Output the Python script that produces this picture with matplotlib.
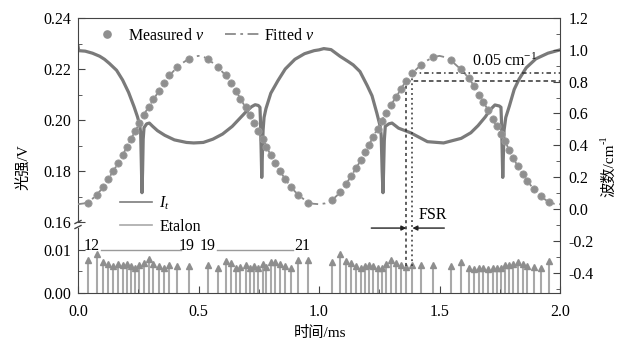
import numpy as np
import matplotlib
matplotlib.use('Agg')
import matplotlib.pyplot as plt
from matplotlib.lines import Line2D
from matplotlib.ticker import FixedLocator, FormatStrFormatter

plt.rcParams['font.family'] = ['Liberation Serif', 'Noto Sans CJK SC']
plt.rcParams['mathtext.fontset'] = 'custom'
plt.rcParams['mathtext.rm'] = 'Liberation Serif'
plt.rcParams['mathtext.it'] = 'Liberation Serif:italic'
plt.rcParams['axes.unicode_minus'] = False
plt.rcParams['font.size'] = 11

# ---------------- data ----------------
# transmitted intensity I_t (V) vs time (ms)
intensity_t = [0.000, 0.003, 0.030, 0.060, 0.090, 0.110, 0.130, 0.160, 0.185, 0.210,
               0.233, 0.247, 0.256, 0.260, 0.263, 0.2655, 0.268, 0.2705, 0.274, 0.285,
               0.296, 0.310, 0.330, 0.360, 0.400, 0.450, 0.480, 0.520, 0.560, 0.600,
               0.640, 0.670, 0.700, 0.720, 0.735, 0.748, 0.755, 0.757, 0.760, 0.7625,
               0.765, 0.768, 0.772, 0.780, 0.800, 0.830, 0.860, 0.900, 0.940, 0.980,
               1.000,
               1.020, 1.050, 1.087, 1.120, 1.142, 1.170, 1.200, 1.220, 1.240, 1.254,
               1.258, 1.262, 1.2655, 1.268, 1.271, 1.275, 1.290, 1.303, 1.330, 1.380,
               1.450, 1.517, 1.590, 1.630, 1.660, 1.690, 1.710, 1.730, 1.748, 1.755,
               1.757, 1.760, 1.7625, 1.765, 1.768, 1.775, 1.790, 1.810, 1.830, 1.860,
               1.900, 1.950, 2.000]
intensity_v = [0.2290, 0.2272, 0.2270, 0.2262, 0.2250, 0.2238, 0.2222, 0.2195, 0.2157, 0.2108,
               0.2051, 0.2012, 0.1980, 0.1950, 0.1820, 0.1715, 0.1800, 0.1925, 0.1970, 0.1985,
               0.1988, 0.1975, 0.1958, 0.1940, 0.1922, 0.1912, 0.1910, 0.1912, 0.1925, 0.1945,
               0.1975, 0.2005, 0.2035, 0.2052, 0.2060, 0.2057, 0.2050, 0.2000, 0.1880, 0.1775,
               0.1860, 0.1960, 0.2010, 0.2045, 0.2105, 0.2155, 0.2200, 0.2238, 0.2260, 0.2272,
               0.2275,
               0.2280, 0.2276, 0.2250, 0.2230, 0.2216, 0.2190, 0.2135, 0.2095, 0.2027, 0.1975,
               0.1940, 0.1800, 0.1715, 0.1800, 0.1920, 0.1975, 0.1985, 0.1988, 0.1968, 0.1950,
               0.1915, 0.1910, 0.1928, 0.1950, 0.1978, 0.2012, 0.2040, 0.2059, 0.2055, 0.2050,
               0.2000, 0.1880, 0.1775, 0.1860, 0.1960, 0.2010, 0.2055, 0.2120, 0.2160, 0.2205,
               0.2240, 0.2262, 0.2275]

# measured wavenumber points (at etalon peaks), cm^-1
measured_t = [0.043, 0.078, 0.105, 0.126, 0.147, 0.168, 0.185, 0.203, 0.220, 0.238,
              0.254, 0.272, 0.293, 0.313, 0.335, 0.355, 0.379, 0.411, 0.459,
              0.539, 0.580, 0.613, 0.636, 0.657, 0.674, 0.696, 0.712, 0.729, 0.747,
              0.768, 0.782, 0.799, 0.817, 0.838, 0.858, 0.882, 0.914, 0.955,
              1.054, 1.087, 1.111, 1.133, 1.153, 1.173, 1.191, 1.208, 1.225, 1.243,
              1.260, 1.278, 1.299, 1.320, 1.341, 1.3625, 1.3875, 1.423, 1.475,
              1.546, 1.588, 1.622, 1.643, 1.664, 1.682, 1.701, 1.720, 1.737, 1.754,
              1.771, 1.789, 1.805, 1.824, 1.845, 1.865, 1.893, 1.920, 1.955]
measured_v = [0.04, 0.09, 0.14, 0.19, 0.24, 0.29, 0.34, 0.39, 0.44, 0.49,
              0.54, 0.59, 0.64, 0.69, 0.74, 0.79, 0.84, 0.89, 0.94,
              0.94, 0.89, 0.84, 0.79, 0.74, 0.69, 0.64, 0.59, 0.54, 0.49,
              0.44, 0.39, 0.34, 0.29, 0.24, 0.19, 0.14, 0.09, 0.04,
              0.055, 0.105, 0.155, 0.205, 0.255, 0.305, 0.355, 0.405, 0.455, 0.505,
              0.555, 0.605, 0.655, 0.705, 0.755, 0.805, 0.855, 0.905, 0.955,
              0.934, 0.877, 0.820, 0.773, 0.719, 0.672, 0.623, 0.568, 0.519, 0.471,
              0.426, 0.371, 0.323, 0.271, 0.222, 0.177, 0.123, 0.082, 0.043]

# fitted wavenumber curve, sampled every 0.025 ms
fitted_t = [round(0.025 * i, 3) for i in range(81)]
fitted_v = [0.030, 0.035, 0.050, 0.085, 0.128, 0.187, 0.247, 0.310, 0.381, 0.454,
            0.525, 0.598, 0.657, 0.716, 0.778, 0.832, 0.872, 0.908, 0.934, 0.955,
            0.962, 0.953, 0.930, 0.896, 0.860, 0.815, 0.757, 0.690, 0.626, 0.553,
            0.482, 0.415, 0.337, 0.268, 0.210, 0.155, 0.110, 0.075, 0.046, 0.033,
            0.030, 0.035, 0.050, 0.085, 0.128, 0.187, 0.247, 0.310, 0.381, 0.454,
            0.525, 0.598, 0.657, 0.716, 0.778, 0.832, 0.872, 0.908, 0.934, 0.955,
            0.962, 0.953, 0.930, 0.896, 0.860, 0.815, 0.757, 0.690, 0.626, 0.553,
            0.482, 0.415, 0.337, 0.268, 0.210, 0.155, 0.110, 0.075, 0.046, 0.033,
            0.030]

# etalon peaks (V)
etalon_t = measured_t
etalon_h = [0.0076, 0.0090, 0.0073, 0.0068, 0.0063, 0.0067, 0.0066, 0.0067, 0.0063, 0.0059,
            0.0065, 0.0070, 0.0078, 0.0067, 0.0063, 0.0059, 0.0066, 0.0063, 0.0063,
            0.0066, 0.0059, 0.0074, 0.0070, 0.0059, 0.0060, 0.0066, 0.0059, 0.0063, 0.0057,
            0.0068, 0.0060, 0.0073, 0.0073, 0.0067, 0.0063, 0.0059, 0.0076, 0.0076,
            0.0073, 0.0090, 0.0074, 0.0070, 0.0063, 0.0059, 0.0063, 0.0065, 0.0063, 0.0059,
            0.0059, 0.0067, 0.0076, 0.0070, 0.0065, 0.0060, 0.0066, 0.0065, 0.0065,
            0.0063, 0.0073, 0.0059, 0.0056, 0.0059, 0.0059, 0.0056, 0.0057, 0.0059, 0.0057,
            0.0066, 0.0066, 0.0068, 0.0073, 0.0067, 0.0063, 0.0060, 0.0057, 0.0074]

# fringe count brackets
count_spans = [(0.096, 0.429), (0.575, 0.892)]
count_labels = [(0.058, '12'), (0.450, '19'), (0.5375, '19'), (0.930, '21')]
count_level = 0.01

# FSR annotation
fsr_t = [1.3625, 1.3875]
fsr_v = [0.805, 0.855]
fsr_bottom = -0.36
fsr_arrow_v = -0.12
fsr_arrow_span = (1.217, 1.52)

# ---------------- figure ----------------
W, H = 617, 342
fig = plt.figure(figsize=(W / 100, H / 100), dpi=100)

def fx(px):
    return px / W

def fy(py):
    return 1 - py / H

L, R = 78, 560
ax_top = fig.add_axes([fx(L), fy(222), fx(R - L), (222 - 18) / H])
ax_bot = fig.add_axes([fx(L), fy(293), fx(R - L), (293 - 228) / H])
ax_r = fig.add_axes([fx(L), fy(293), fx(R - L), (293 - 18) / H])
for a in (ax_top, ax_bot, ax_r):
    a.set_xlim(0, 2.0)
    a.patch.set_visible(False)

spine_c = '#444444'
tick_kw = dict(direction='in', color=spine_c, labelsize=11.5)

# top-left (intensity)
ax_top.set_ylim(0.16, 0.24)
for s in ('top', 'right', 'bottom'):
    ax_top.spines[s].set_visible(False)
ax_top.spines['left'].set_color(spine_c)
ax_top.set_xticks([])
ax_top.yaxis.set_major_locator(FixedLocator([0.16, 0.18, 0.20, 0.22, 0.24]))
ax_top.yaxis.set_minor_locator(FixedLocator([0.17, 0.19, 0.21, 0.23]))
ax_top.yaxis.set_major_formatter(FormatStrFormatter('%.2f'))
ax_top.tick_params(axis='y', which='major', length=5, pad=5, **tick_kw)
ax_top.tick_params(axis='y', which='minor', length=3, direction='in', color=spine_c)

ax_top.plot(intensity_t, intensity_v, color='#7a7a7a', lw=2.3, solid_joinstyle='round')

# bottom-left (etalon)
ax_bot.set_ylim(0, 0.0151)
for s in ('top', 'right', 'bottom'):
    ax_bot.spines[s].set_visible(False)
ax_bot.spines['left'].set_color(spine_c)
ax_bot.set_xticks([])
ax_bot.yaxis.set_major_locator(FixedLocator([0.0, 0.01]))
ax_bot.yaxis.set_minor_locator(FixedLocator([0.005]))
ax_bot.yaxis.set_major_formatter(FormatStrFormatter('%.2f'))
ax_bot.tick_params(axis='y', which='major', length=5, pad=5, **tick_kw)
ax_bot.tick_params(axis='y', which='minor', length=3, direction='in', color=spine_c)

ax_bot.vlines(etalon_t, 0, etalon_h, color='#a9a9a9', lw=1.5)
ax_bot.plot(etalon_t, etalon_h, ls='none', marker='^', ms=4.5, color='#8e8e8e')
for a0, a1 in count_spans:
    ax_bot.plot([a0, a1], [count_level, count_level], color='#9a9a9a', lw=1.0)
for xt, lab in count_labels:
    ax_bot.text(xt, count_level - 0.0001, lab, ha='center', va='baseline', fontsize=11.5)

# right axis (wavenumber)
ax_r.set_ylim(-0.528, 1.2)
ax_r.spines['left'].set_visible(False)
for s in ('top', 'right', 'bottom'):
    ax_r.spines[s].set_color(spine_c)
ax_r.yaxis.tick_right()
ax_r.yaxis.set_major_locator(FixedLocator([-0.4, -0.2, 0.0, 0.2, 0.4, 0.6, 0.8, 1.0, 1.2]))
ax_r.yaxis.set_minor_locator(FixedLocator([-0.5, -0.3, -0.1, 0.1, 0.3, 0.5, 0.7, 0.9, 1.1]))
ax_r.yaxis.set_major_formatter(FormatStrFormatter('%.1f'))
ax_r.xaxis.set_major_locator(FixedLocator([0.0, 0.5, 1.0, 1.5, 2.0]))
ax_r.xaxis.set_minor_locator(FixedLocator([0.25, 0.75, 1.25, 1.75]))
ax_r.xaxis.set_major_formatter(FormatStrFormatter('%.1f'))
ax_r.tick_params(axis='y', which='major', length=5, pad=6, **tick_kw)
ax_r.tick_params(axis='y', which='minor', length=3, direction='in', color=spine_c)
ax_r.tick_params(axis='x', which='major', length=5, pad=8, **tick_kw)
ax_r.tick_params(axis='x', which='minor', length=3, direction='in', color=spine_c)

ax_r.plot(fitted_t, fitted_v, color='#8a8a8a', lw=1.3, ls='-.', dashes=(6, 2.5, 1.5, 2.5), zorder=2)
ax_r.plot(measured_t, measured_v, ls='none', marker='o', ms=5.2, color='#8f8f8f',
          mec='#9a9a9a', mew=0.6, zorder=3)

# FSR helper lines
dark = '#333333'
ax_r.plot([fsr_t[0], fsr_t[0]], [fsr_bottom, fsr_v[0]], color=dark, lw=1.1, ls=(0, (2, 2)))
ax_r.plot([fsr_t[1], fsr_t[1]], [fsr_bottom, fsr_v[1]], color=dark, lw=1.1, ls=(0, (1.2, 2)))
ax_r.plot([fsr_t[0], 2.0], [fsr_v[0], fsr_v[0]], color=dark, lw=1.1, ls=(0, (3, 2)))
ax_r.plot([fsr_t[1], 2.0], [fsr_v[1], fsr_v[1]], color=dark, lw=1.1, ls=(0, (3, 2, 1, 2)))
ax_r.annotate('', xy=(fsr_t[0], fsr_arrow_v), xytext=(fsr_arrow_span[0], fsr_arrow_v),
              arrowprops=dict(arrowstyle='-|>', color='#222222', lw=1.0,
                              mutation_scale=7, shrinkA=0, shrinkB=0))
ax_r.annotate('', xy=(fsr_t[1], fsr_arrow_v), xytext=(fsr_arrow_span[1], fsr_arrow_v),
              arrowprops=dict(arrowstyle='-|>', color='#222222', lw=1.0,
                              mutation_scale=7, shrinkA=0, shrinkB=0))
ax_r.text(1.4125, -0.04, 'FSR', ha='left', va='center', fontsize=11.5)
ax_r.text(1.633, 0.93, '0.05 cm$^{-1}$', ha='left', va='center', fontsize=11.5)

# axis break marks on left spine
for yb in (222, 227):
    fig.add_artist(Line2D([fx(L - 3), fx(L + 3)], [fy(yb + 1.5), fy(yb - 1.5)],
                          color=spine_c, lw=1.0))

# axis labels
fig.text(fx(23), fy(167), '光强/V', rotation=90, ha='center', va='center', fontsize=11)
fig.text(fx(609), fy(197), '波数/cm', rotation=90, ha='center', va='bottom', fontsize=11)
fig.text(fx(604), fy(144), '-1', rotation=90, ha='center', va='bottom', fontsize=7.5)
fig.text(fx(320), fy(333), '时间/ms', ha='center', va='center', fontsize=11)

# legends
h1 = [Line2D([], [], ls='none', marker='o', ms=5.2, color='#8f8f8f'),
      Line2D([], [], color='#8a8a8a', lw=1.3, ls='-.', dashes=(6, 2.5, 1.5, 2.5))]
fig.legend(h1, ['Measured $v$', 'Fitted $v$'], ncol=2, frameon=False, loc='upper left',
           bbox_to_anchor=(fx(89), fy(28)), borderpad=0, borderaxespad=0,
           handlelength=2.3, handletextpad=0.15, columnspacing=1.3, fontsize=11.5)
h2 = [Line2D([], [], color='#7d7d7d', lw=1.2), Line2D([], [], color='#a9a9a9', lw=1.2)]
fig.legend(h2, ['$I_t$', 'Etalon'], frameon=False, loc='upper left',
           bbox_to_anchor=(fx(120), fy(195)), borderpad=0, borderaxespad=0,
           handlelength=2.0, handletextpad=0.45, labelspacing=0.4, fontsize=11.5)

fig.savefig('out.png', dpi=100)
